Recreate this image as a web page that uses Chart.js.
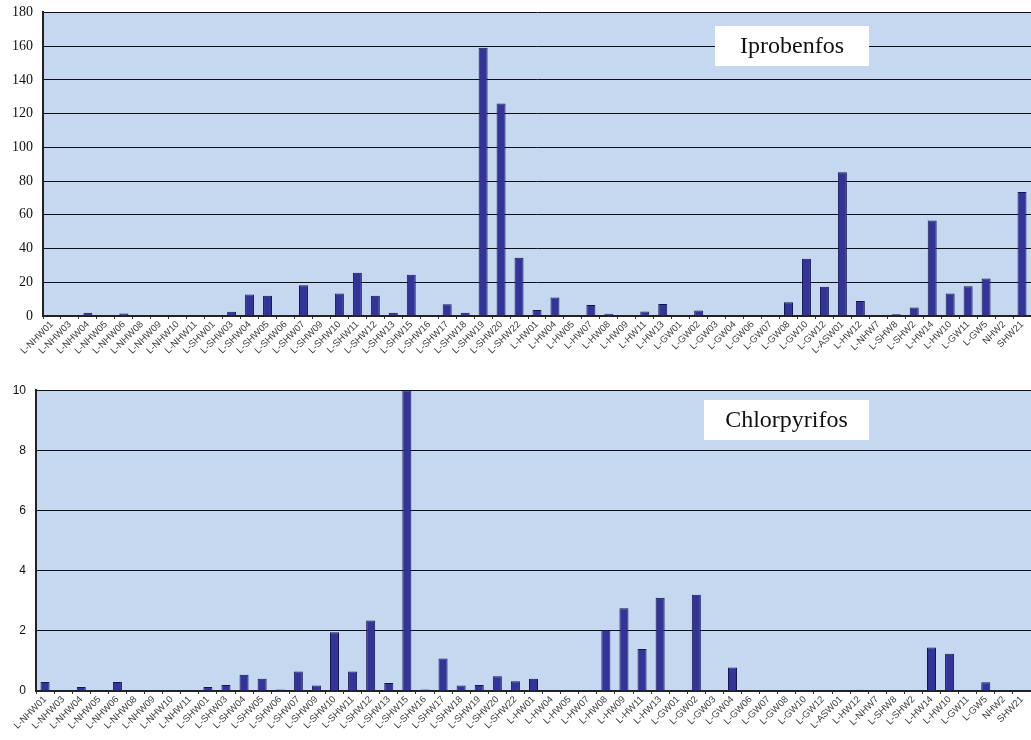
<!DOCTYPE html>
<html>
<head>
<meta charset="utf-8">
<script src="https://cdn.jsdelivr.net/npm/chart.js@4/dist/chart.umd.min.js"></script>
<style>
  html, body { margin: 0; padding: 0; background: #fff; overflow: hidden; }
  .panel { position: absolute; left: 0; width: 1031px; }
  #top { top: -6px; height: 386px; }
  #bottom { top: 373px; height: 367px; }
</style>
</head>
<body>
<div class="panel" id="top"><canvas id="iproChart"></canvas></div>
<div class="panel" id="bottom"><canvas id="chlorChart"></canvas></div>
<script>
// sampling sites (same order on both panels)
const sites = [
    'L-NHW01', 'L-NHW03', 'L-NHW04', 'L-NHW05', 'L-NHW06', 'L-NHW08', 'L-NHW09', 'L-NHW10', 'L-NHW11',
    'L-SHW01', 'L-SHW03', 'L-SHW04', 'L-SHW05', 'L-SHW06', 'L-SHW07', 'L-SHW09', 'L-SHW10', 'L-SHW11',
    'L-SHW12', 'L-SHW13', 'L-SHW15', 'L-SHW16', 'L-SHW17', 'L-SHW18', 'L-SHW19', 'L-SHW20', 'L-SHW22',
    'L-HW01', 'L-HW04', 'L-HW05', 'L-HW07', 'L-HW08', 'L-HW09', 'L-HW11', 'L-HW13',
    'L-GW01', 'L-GW02', 'L-GW03', 'L-GW04', 'L-GW06', 'L-GW07', 'L-GW08', 'L-GW10', 'L-GW12',
    'L-ASW01', 'L-HW12', 'L-NHW7', 'L-SHW8', 'L-SHW2', 'L-HW14', 'L-HW10', 'L-GW11', 'L-GW5', 'NHW2', 'SHW21'
];

// Iprobenfos concentrations
const iprobenfos = [
    0, 0, 2, 0, 1.5, 0, 0, 0, 0,
    0, 2.5, 12.7, 12, 0, 18.2, 0, 13.3, 25.7,
    12, 2, 24.5, 0, 7, 2, 159, 126, 34.6,
    3.6, 10.9, 0, 6.5, 1.4, 0, 2.6, 7.1,
    0, 3.2, 0, 0, 0, 0, 8.1, 34, 17.4,
    85.3, 8.9, 0, 1, 5.1, 56.6, 13.3, 17.6, 22.2, 0, 73.5
];

// Chlorpyrifos concentrations
const chlorpyrifos = [
    0.3, 0, 0.13, 0, 0.3, 0, 0, 0, 0,
    0.13, 0.2, 0.54, 0.41, 0.05, 0.65, 0.18, 1.95, 0.65,
    2.34, 0.27, 10, 0.05, 1.08, 0.18, 0.2, 0.49, 0.32,
    0.41, 0, 0, 0, 2.03, 2.75, 1.4, 3.1,
    0, 3.2, 0, 0.78, 0, 0, 0, 0, 0,
    0, 0.04, 0, 0, 0, 1.45, 1.24, 0, 0.29, 0, 0
];

const iproTicks = [0, 20, 40, 60, 80, 100, 120, 140, 160, 180];
const chlorTicks = [0, 2, 4, 6, 8, 10];

// light blue plot background + white label box
const panelPlugin = {
    id: 'panel',
    beforeDraw(chart, args, opts) {
        const a = chart.chartArea;
        const ctx = chart.ctx;
        ctx.save();
        ctx.fillStyle = '#c6d8f0';
        ctx.fillRect(a.left, a.top, a.right - a.left, a.bottom - a.top);
        ctx.restore();
    },
    afterDatasetsDraw(chart, args, opts) {
        const ctx = chart.ctx;
        ctx.save();
        ctx.fillStyle = '#fff';
        ctx.fillRect(opts.x, opts.y, opts.w, opts.h);
        ctx.fillStyle = '#111';
        ctx.font = '24px "Liberation Serif"';
        ctx.textAlign = 'center';
        ctx.textBaseline = 'middle';
        ctx.fillText(opts.text, opts.x + opts.w / 2, opts.y + opts.h / 2 + 1);
        ctx.restore();
    }
};

function makeChart(canvasId, values, ticks, cfg) {
    const ctx = document.getElementById(canvasId).getContext('2d');
    return new Chart(ctx, {
        type: 'bar',
        data: {
            labels: sites,
            datasets: [{
                data: values,
                backgroundColor: '#333399',
                borderColor: '#16164f',
                borderWidth: 1,
                barPercentage: 0.5,
                categoryPercentage: 1.0
            }]
        },
        options: {
            responsive: true,
            maintainAspectRatio: false,
            animation: false,
            layout: { padding: { top: cfg.top, right: 0, left: 0, bottom: 0 } },
            plugins: {
                legend: { display: false },
                tooltip: { enabled: false },
                panel: cfg.box
            },
            scales: {
                x: {
                    grid: { offset: true, drawOnChartArea: false, color: '#333', tickLength: 3 },
                    border: { color: '#222', width: 2 },
                    ticks: {
                        autoSkip: false,
                        minRotation: 45,
                        maxRotation: 45,
                        color: '#3a3a3a',
                        padding: 0,
                        font: { family: '"Liberation Sans"', size: 9.5 }
                    },
                    afterFit: s => { s.height = cfg.xHeight; }
                },
                y: {
                    min: 0,
                    max: ticks[ticks.length - 1],
                    afterBuildTicks: s => { s.ticks = ticks.map(v => ({ value: v })); },
                    grid: { color: '#111', lineWidth: 1, drawTicks: false },
                    border: { color: '#222', width: 2 },
                    ticks: {
                        color: '#111',
                        padding: 10,
                        font: cfg.yFont
                    },
                    afterFit: s => { s.width = cfg.yWidth; }
                }
            }
        },
        plugins: [panelPlugin]
    });
}

makeChart('iproChart', iprobenfos, iproTicks, {
    top: 6, xHeight: 64, yWidth: 43,
    yFont: { family: '"Liberation Serif"', size: 14 },
    box: { text: 'Iprobenfos', x: 715, y: 32, w: 154, h: 40 }
});

makeChart('chlorChart', chlorpyrifos, chlorTicks, {
    top: 3, xHeight: 49, yWidth: 36,
    yFont: { family: '"Liberation Sans"', size: 12 },
    box: { text: 'Chlorpyrifos', x: 704, y: 27, w: 165, h: 40 }
});
</script>
</body>
</html>
